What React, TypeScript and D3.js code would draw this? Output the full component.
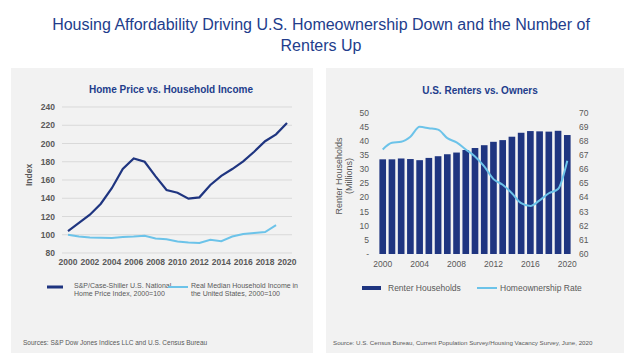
import React from "react";
import * as d3 from "d3";

const years = d3.range(2000, 2021);
const homePrice = [104, 113, 122, 134, 151, 172, 183.5, 180, 164, 149, 146, 139.5, 141, 154.5, 164.5, 172, 180.5, 191, 202.5, 210, 222.5];
const incomeYears = d3.range(2000, 2020);
const income = [100, 98, 97, 96.8, 96.5, 97.5, 98, 99, 96, 95, 92.5, 91.5, 91, 94.5, 93, 98, 100.8, 102, 103, 110.5];
const renters = [33.5, 33.5, 33.8, 33.6, 33.2, 34, 34.6, 35.3, 35.9, 36.8, 37.5, 38.5, 39.7, 40.3, 41.5, 42.9, 43.5, 43.4, 43.3, 43.6, 42.1];
const ownRate = [67.4, 67.87, 67.94, 68.3, 69.0, 68.9, 68.8, 68.2, 67.9, 67.4, 66.9, 66.2, 65.3, 64.9, 64.3, 63.6, 63.4, 63.8, 64.3, 64.6, 66.6];
const leftYTicks = [80, 100, 120, 140, 160, 180, 200, 220, 240];
const leftXTicks = d3.range(2000, 2021, 2);
const rightYTicks = [0, 5, 10, 15, 20, 25, 30, 35, 40, 45, 50];
const rightY2Ticks = [60, 61, 62, 63, 64, 65, 66, 67, 68, 69, 70];
const rightXTicks = [2000, 2004, 2008, 2012, 2016, 2020];

const NAVY = "#1f3580";
const LIGHT = "#6cc3e9";
const TITLE = "#223d8c";
const TICK = "#595959";
const FONT = "'Liberation Sans', Arial, sans-serif";

export default function App() {
  // Left chart
  const xL = d3.scaleLinear().domain([2000, 2020]).range([68, 287]);
  const yL = d3.scaleLinear().domain([80, 240]).range([253, 107]);
  const lineL = d3.line<number>().x((_, i) => xL(years[i])).y((d) => yL(d));
  const lineInc = d3.line<number>().x((_, i) => xL(incomeYears[i])).y((d) => yL(d));

  // Right chart
  const xB = d3.scaleBand<number>().domain(years).range([378.1, 571.9]).paddingInner(0.28).paddingOuter(0.14);
  const yR = d3.scaleLinear().domain([0, 50]).range([254, 112.7]);
  const yR2 = d3.scaleLinear().domain([60, 70]).range([254, 112.7]);
  const lineR = d3.line<number>().x((_, i) => (xB(years[i]) as number) + xB.bandwidth() / 2).y((d) => yR2(d)).curve(d3.curveMonotoneX);

  return (
    <svg width={624} height={355} style={{ position: "absolute", left: 0, top: 0 }} fontFamily={FONT}>
      <rect x={0} y={0} width={624} height={355} fill="#ffffff" />
      <text x={321} y={30} textAnchor="middle" fontSize={16} fill={TITLE}>
        Housing Affordability Driving U.S. Homeownership Down and the Number of
      </text>
      <text x={321} y={51} textAnchor="middle" fontSize={16} fill={TITLE}>
        Renters Up
      </text>

      {/* Left panel */}
      <rect x={11} y={68} width={302} height={285} fill="#f2f2f2" />
      <text x={171} y={93} textAnchor="middle" fontSize={10} fontWeight="bold" fill={TITLE}>
        Home Price vs. Household Income
      </text>
      {leftYTicks.map((t) => (
        <g key={t}>
          <line x1={62} x2={292} y1={yL(t)} y2={yL(t)} stroke="#d9d9d9" strokeWidth={1} />
          <text x={55} y={yL(t) + 3} textAnchor="end" fontSize={8.5} fontWeight="bold" fill={TICK}>
            {t}
          </text>
        </g>
      ))}
      {leftXTicks.map((t) => (
        <text key={t} x={xL(t)} y={265} textAnchor="middle" fontSize={8.5} fontWeight="bold" fill={TICK}>
          {t}
        </text>
      ))}
      <text transform={`translate(32,175) rotate(-90)`} textAnchor="middle" fontSize={8.5} fontWeight="bold" fill={TICK}>
        Index
      </text>
      <path d={lineInc(income) || ""} fill="none" stroke={LIGHT} strokeWidth={2} />
      <path d={lineL(homePrice) || ""} fill="none" stroke={NAVY} strokeWidth={2.2} />

      <line x1={47} x2={63} y1={287} y2={287} stroke={NAVY} strokeWidth={3} />
      <text x={74} y={288} fontSize={7} fill={TICK}>S&amp;P/Case-Shiller U.S. National</text>
      <text x={74} y={296} fontSize={7} fill={TICK}>Home Price Index, 2000=100</text>
      <line x1={168} x2={188} y1={287} y2={287} stroke={LIGHT} strokeWidth={2} />
      <text x={191} y={288} fontSize={7} fill={TICK}>Real Median Household Income in</text>
      <text x={191} y={296} fontSize={7} fill={TICK}>the United States, 2000=100</text>
      <text x={23} y={345} fontSize={6.5} fill={TICK}>Sources: S&amp;P Dow Jones Indices LLC and U.S. Census Bureau</text>

      {/* Right panel */}
      <rect x={326} y={68} width={298} height={285} fill="#f2f2f2" />
      <text x={480} y={94} textAnchor="middle" fontSize={10} fontWeight="bold" fill={TITLE}>
        U.S. Renters vs. Owners
      </text>
      {rightYTicks.map((t) => (
        <text key={t} x={369} y={yR(t) + 3} textAnchor="end" fontSize={8.5} fill={TICK}>
          {t === 0 ? "-" : t}
        </text>
      ))}
      {rightY2Ticks.map((t) => (
        <text key={t} x={579} y={yR2(t) + 3} textAnchor="start" fontSize={8.5} fill={TICK}>
          {t}
        </text>
      ))}
      {rightXTicks.map((t) => (
        <text key={t} x={(xB(t) as number) + xB.bandwidth() / 2} y={267} textAnchor="middle" fontSize={8.5} fill={TICK}>
          {t}
        </text>
      ))}
      <text transform={`translate(342,176) rotate(-90)`} textAnchor="middle" fontSize={9} fill={TICK}>
        Renter Households
      </text>
      <text transform={`translate(352,176) rotate(-90)`} textAnchor="middle" fontSize={9} fill={TICK}>
        (Millions)
      </text>
      {renters.map((v, i) => (
        <rect key={years[i]} x={xB(years[i])} y={yR(v)} width={xB.bandwidth()} height={yR(0) - yR(v)} fill={NAVY} />
      ))}
      <path d={lineR(ownRate) || ""} fill="none" stroke={LIGHT} strokeWidth={2} />

      <rect x={362} y={286} width={19} height={4} fill={NAVY} />
      <text x={388} y={291} fontSize={8.5} fill={TICK}>Renter Households</text>
      <line x1={477} x2={497} y1={288} y2={288} stroke={LIGHT} strokeWidth={2} />
      <text x={500} y={291} fontSize={8.5} fill={TICK}>Homeownership Rate</text>
      <text x={333} y={345} fontSize={6.2} fill={TICK}>
        Source: U.S. Census Bureau, Current Population Survey/Housing Vacancy Survey, June, 2020
      </text>
    </svg>
  );
}
